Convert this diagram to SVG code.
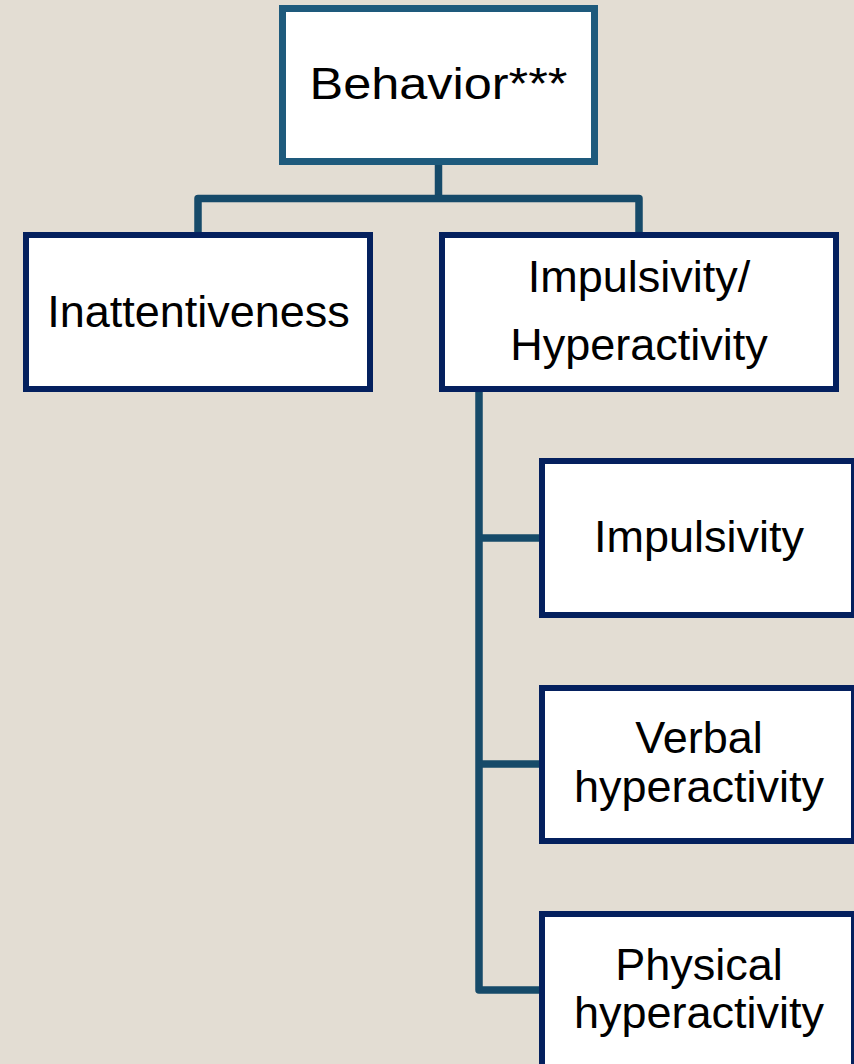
<svg xmlns="http://www.w3.org/2000/svg" width="854" height="1064" viewBox="0 0 854 1064">
  <style>
    .bg { fill: #e3ddd3; }
    .box { fill: #ffffff; stroke: #04205e; stroke-width: 6; }
    .root { fill: #ffffff; stroke: #1e5a7c; stroke-width: 7; }
    .link { fill: none; stroke: #164a69; stroke-width: 7.5; stroke-linejoin: round; }
    .label { font-family: "Liberation Sans", Arial, sans-serif; font-size: 45px; fill: #000000; text-anchor: middle; }
  </style>
  <rect class="bg" x="0" y="0" width="854" height="1064"/>

  <g id="connectors">
    <path class="link" d="M438.5,165 V198.5"/>
    <path class="link" d="M198,232 V198.5 H639 V232"/>
    <path class="link" d="M479,392 V990 H542"/>
    <path class="link" d="M479,538 H542"/>
    <path class="link" d="M479,764 H542"/>
  </g>

  <g id="behavior">
    <rect class="root" x="282.5" y="8.5" width="312" height="153"/>
    <text class="label" x="438.5" y="99" font-size="46" textLength="258" lengthAdjust="spacingAndGlyphs">Behavior***</text>
  </g>

  <g id="inattentiveness">
    <rect class="box" x="26" y="235" width="344" height="154"/>
    <text class="label" x="198.5" y="327" font-size="46">Inattentiveness</text>
  </g>

  <g id="impulsivity-hyperactivity">
    <rect class="box" x="442" y="235" width="394" height="154"/>
    <text class="label" x="639" y="292">Impulsivity/</text>
    <text class="label" x="639" y="360">Hyperactivity</text>
  </g>

  <g id="impulsivity">
    <rect class="box" x="542" y="461" width="312" height="154"/>
    <text class="label" x="699" y="552">Impulsivity</text>
  </g>

  <g id="verbal-hyperactivity">
    <rect class="box" x="542" y="688" width="312" height="153"/>
    <text class="label" x="699" y="753">Verbal</text>
    <text class="label" x="699" y="802">hyperactivity</text>
  </g>

  <g id="physical-hyperactivity">
    <rect class="box" x="542" y="914" width="312" height="160"/>
    <text class="label" x="699" y="980">Physical</text>
    <text class="label" x="699" y="1028">hyperactivity</text>
  </g>
</svg>
